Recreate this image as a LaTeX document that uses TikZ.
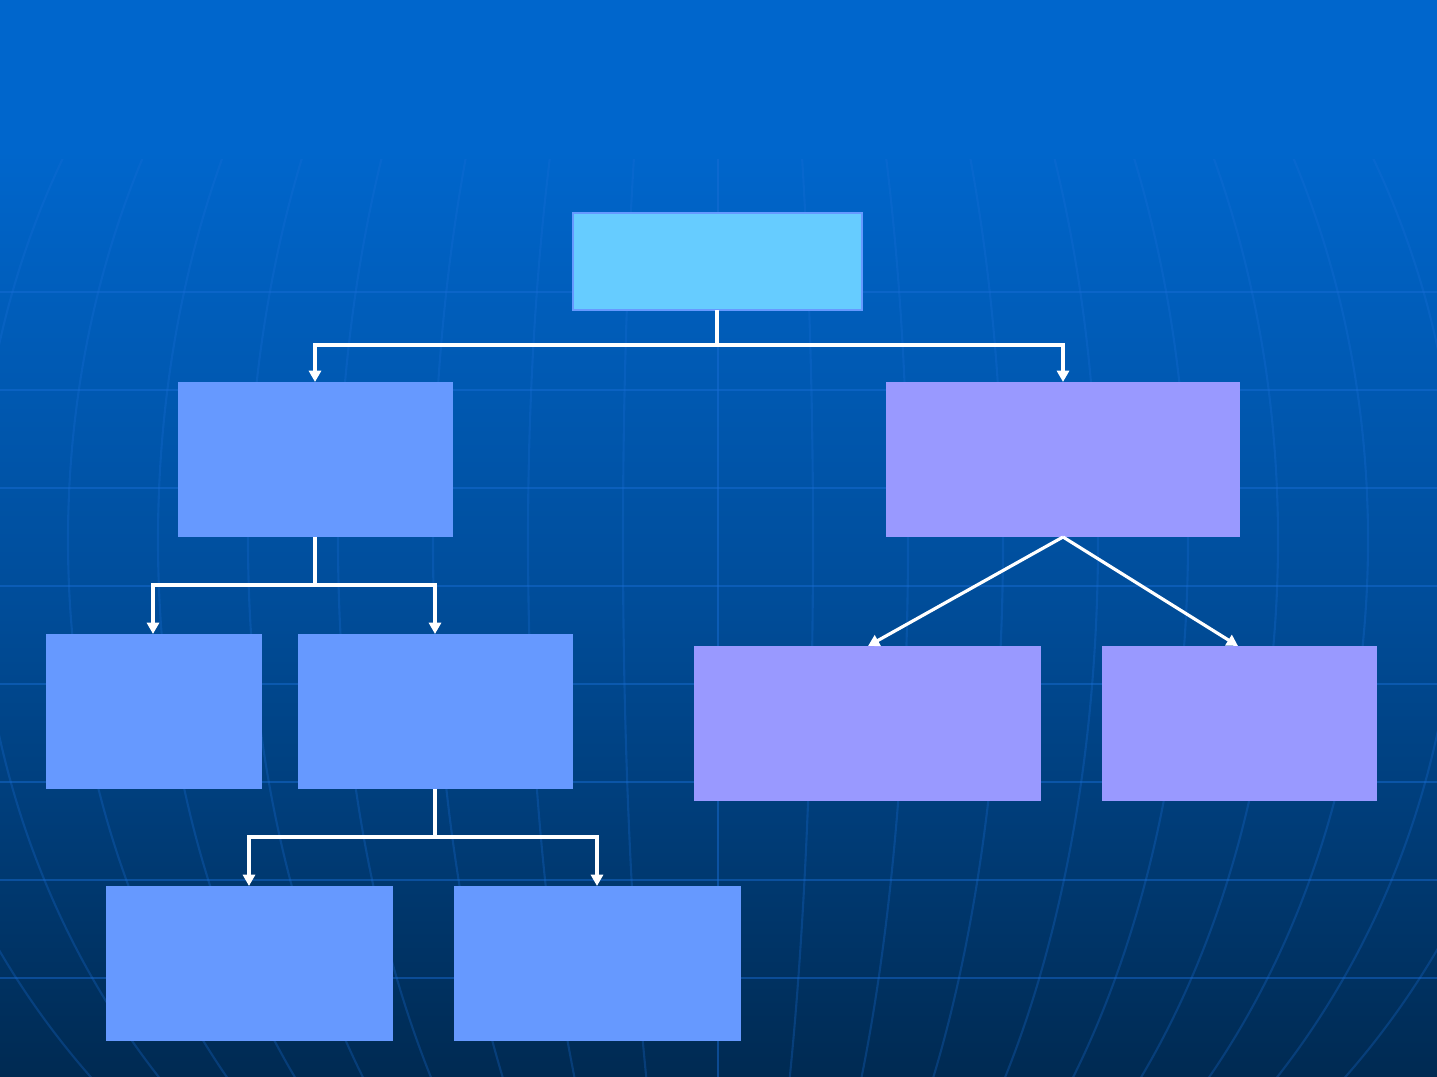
\documentclass[tikz,border=0pt]{standalone}
\usetikzlibrary{arrows.meta}
\definecolor{bgtop}{HTML}{0066CC}
\definecolor{bgmid}{HTML}{004C98}
\definecolor{bgbot}{HTML}{002A52}
\definecolor{gridc}{HTML}{1A6FD8}
\definecolor{rootfill}{HTML}{66CCFF}
\definecolor{bluebox}{HTML}{6699FF}
\definecolor{violetbox}{HTML}{9999FF}
\begin{document}
\begin{tikzpicture}[x=0.01cm,y=-0.01cm,
  conn/.style={draw=white,line width=0.9pt},
  arr/.style={conn,-{Triangle[width=3.4pt,length=3.2pt]}}]
\useasboundingbox (0,0) rectangle (1437,1077);
\begin{scope}
\clip (0,0) rectangle (1437,1077);
\fill[bgtop] (0,0) rectangle (1437,151);
\shade[top color=bgtop,bottom color=bgbot,middle color=bgmid] (0,150) rectangle (1437,1077);
\end{scope}
\begin{scope}
\clip (0,160) rectangle (1437,1077);
% horizontal grid
\foreach \yy in {292,390,488,586,684,782,880,978}
  \draw[gridc,opacity=0.45,line width=0.6pt] (0,\yy) -- (1437,\yy);
% meridians
\foreach \a in {0,95,190,285,380,470,560,650,740,830}{
  \draw[gridc,opacity=0.28,line width=0.6pt] (718,540) ++(0,-820) arc[start angle=-90,end angle=90,x radius=\a,y radius=820];
  \draw[gridc,opacity=0.28,line width=0.6pt] (718,540) ++(0,-820) arc[start angle=-90,end angle=-270,x radius=\a,y radius=820];
}
\end{scope}
% boxes
\path[fill=rootfill,draw=bluebox,line width=0.6pt] (573,213) rectangle (862,310);
\fill[bluebox] (178,382) rectangle (453,537);
\fill[violetbox] (886,382) rectangle (1240,537);
\fill[bluebox] (46,634) rectangle (262,789);
\fill[bluebox] (298,634) rectangle (573,789);
\fill[bluebox] (106,886) rectangle (393,1041);
\fill[bluebox] (454,886) rectangle (741,1041);
\fill[violetbox] (694,646) rectangle (1041,801);
\fill[violetbox] (1102,646) rectangle (1377,801);
% anchor coordinates
\coordinate (rootS) at (717,310);
\coordinate (Ltop) at (315,382); \coordinate (Lbot) at (315,537);
\coordinate (Rtop) at (1063,382); \coordinate (Rbot) at (1063,537);
\coordinate (Aa) at (153,634); \coordinate (Ab) at (435,634); \coordinate (Abbot) at (435,789);
\coordinate (Ba) at (249,886); \coordinate (Bb) at (597,886);
\coordinate (Ca) at (868,646); \coordinate (Cb) at (1238,646);
% connectors
\draw[conn] (rootS) -- (717,345);
\draw[arr] (717,345) -| (Ltop);
\draw[arr] (717,345) -| (Rtop);
\draw[conn] (Lbot) -- (315,585);
\draw[arr] (315,585) -| (Aa);
\draw[arr] (315,585) -| (Ab);
\draw[conn] (Abbot) -- (435,837);
\draw[arr] (435,837) -| (Ba);
\draw[arr] (435,837) -| (Bb);
\draw[arr] (Rbot) -- (Ca);
\draw[arr] (Rbot) -- (Cb);
\end{tikzpicture}
\end{document}
